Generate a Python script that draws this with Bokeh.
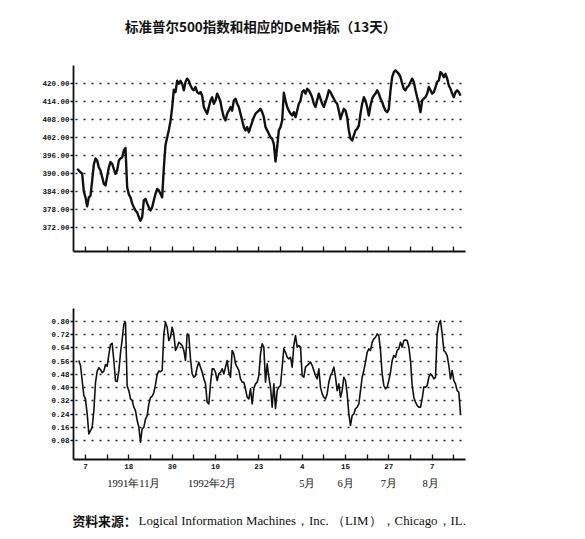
import numpy as np
from bokeh.plotting import figure
from bokeh.models import FixedTicker, NumeralTickFormatter, Range1d
from bokeh.core.properties import value
from bokeh.layouts import column
from bokeh.embed import file_html
from bokeh.resources import INLINE

# S&P 500 daily values, two consecutive stretches
spx_part1 = [
    391.5, 391.0, 390.4, 389.9, 384.0, 382.0, 379.0, 382.0, 382.6, 387.6,
    393.0, 395.0, 394.3, 392.0, 391.0, 388.8, 386.5, 386.0, 389.0, 392.0,
    393.8, 393.2, 391.5, 389.9, 391.0, 394.3, 395.0, 395.4, 397.7, 398.5,
    385.4, 383.0, 382.0, 380.0, 378.7, 377.6, 377.0, 375.4, 374.2, 375.4,
    381.0, 381.5, 380.0, 378.7, 377.6, 378.7, 381.0, 383.2, 384.8, 384.3,
    383.2, 382.0, 392.0, 399.5, 402.0, 404.5, 407.5, 412.0, 418.0, 417.2,
    421.0, 420.0, 421.0, 420.0, 417.8, 420.6, 421.7, 421.0, 419.4, 418.3,
    417.8, 418.9, 417.2, 416.7, 417.2, 416.0, 412.2, 411.0, 410.0, 412.2,
    414.4, 415.5, 413.3, 414.4, 416.7, 415.5, 413.9, 411.0, 408.8, 407.7,
    410.0, 411.0, 412.2, 411.0, 414.4, 415.0, 413.3, 412.2, 410.0, 407.7,
    405.5, 404.4, 405.5, 403.8, 405.5, 407.2, 408.8, 410.0, 410.5, 411.0,
    411.6, 410.5, 408.8,
]
spx_part2 = [
    405.5, 404.4, 403.3, 402.1, 401.6, 399.9, 394.0, 398.8, 404.4, 405.5,
    407.7, 417.0, 414.4, 412.2, 411.0, 410.0, 409.4, 410.5, 408.8, 411.0,
    413.3, 414.4, 417.2, 417.8, 416.7, 418.3, 417.8, 416.7, 415.5, 413.3,
    412.2, 414.4, 416.7, 415.0, 413.3, 412.2, 413.9, 415.5, 417.8, 417.2,
    416.0, 415.0, 413.9, 413.3, 411.0, 408.3, 410.0, 411.6, 411.0, 408.8,
    404.4, 401.6, 401.0, 402.7, 404.4, 404.9, 406.0, 410.0, 413.3, 415.5,
    414.4, 412.2, 409.4, 412.7, 415.0, 416.0, 416.7, 417.8, 416.7, 415.0,
    413.9, 412.2, 411.0, 410.5, 411.6, 417.8, 422.2, 423.9, 424.5, 423.9,
    423.3, 422.2, 420.0, 418.3, 417.8, 418.9, 419.4, 420.6, 421.7, 420.6,
    417.8, 415.5, 413.3, 410.5, 414.4, 415.0, 415.5, 416.7, 418.9, 417.8,
    416.7, 417.2, 418.9, 420.6, 421.1, 423.9, 423.3, 422.2, 423.3, 421.7,
    419.4, 418.3, 416.7, 415.5, 417.2, 417.8, 417.2, 416.0,
]
spx_close = spx_part1 + spx_part2

# DeM indicator (13 days)
dem_part1 = [
    0.564, 0.534, 0.443, 0.352, 0.332, 0.241, 0.120, 0.140, 0.160, 0.260,
    0.430, 0.500, 0.520, 0.510, 0.490, 0.500, 0.540, 0.530, 0.600, 0.660,
    0.668, 0.564, 0.440, 0.437, 0.500, 0.610, 0.690, 0.785, 0.796, 0.410,
    0.382, 0.332, 0.322, 0.282, 0.261, 0.201, 0.161, 0.070, 0.151, 0.160,
    0.210, 0.230, 0.300, 0.340, 0.348, 0.370, 0.420, 0.480, 0.500, 0.497,
    0.504, 0.725, 0.796, 0.766, 0.685, 0.705, 0.766, 0.725, 0.625, 0.645,
    0.675, 0.665, 0.655, 0.625, 0.564, 0.725, 0.715, 0.574, 0.483, 0.463,
    0.473, 0.524, 0.554, 0.524, 0.493, 0.453, 0.423, 0.312, 0.302, 0.423,
    0.514, 0.514, 0.493, 0.443, 0.483, 0.493, 0.514, 0.483, 0.524, 0.564,
    0.493, 0.463, 0.625, 0.604, 0.544, 0.524, 0.504, 0.453, 0.433, 0.433,
    0.393, 0.342, 0.332, 0.393, 0.302, 0.393, 0.423, 0.433, 0.473, 0.604,
]
dem_part2 = [
    0.665, 0.645, 0.433, 0.544, 0.463, 0.403, 0.282, 0.423, 0.272, 0.382,
    0.403, 0.413, 0.524, 0.635, 0.614, 0.584, 0.574, 0.584, 0.524, 0.655,
    0.715, 0.645, 0.655, 0.645, 0.473, 0.463, 0.524, 0.534, 0.544, 0.554,
    0.534, 0.504, 0.473, 0.453, 0.514, 0.403, 0.362, 0.342, 0.332, 0.362,
    0.433, 0.473, 0.493, 0.524, 0.463, 0.382, 0.423, 0.342, 0.382, 0.463,
    0.443, 0.362, 0.241, 0.171, 0.231, 0.241, 0.272, 0.282, 0.302, 0.382,
    0.463, 0.504, 0.554, 0.614, 0.635, 0.625, 0.675, 0.695, 0.705, 0.725,
    0.715, 0.625, 0.483, 0.413, 0.393, 0.403, 0.443, 0.493, 0.564, 0.594,
    0.584, 0.625, 0.635, 0.675, 0.645, 0.685, 0.689, 0.685, 0.645, 0.564,
    0.413, 0.342, 0.312, 0.292, 0.282, 0.282, 0.332, 0.403, 0.403, 0.413,
    0.463, 0.483, 0.473, 0.453, 0.463, 0.725, 0.786, 0.806, 0.725, 0.625,
    0.614, 0.594, 0.534, 0.453, 0.504, 0.443, 0.423, 0.382, 0.372, 0.241,
]
dem_values = dem_part1 + dem_part2

spx_ticks = [372, 378, 384, 390, 396, 402, 408, 414, 420]
dem_ticks = [0.08, 0.16, 0.24, 0.32, 0.40, 0.48, 0.56, 0.64, 0.72, 0.80]
day_tick_labels = ["7", "", "18", "", "30", "", "10", "", "23", "",
                   "4", "", "15", "", "27", "", "7", ""]
month_labels = ["1991年11月", "1992年2月", "5月", "6月", "7月", "8月"]
month_label_days = [34, 81, 138, 161, 187, 212]

title_text = "标准普尔500指数和相应的DeM指标（13天）"
source_prefix = "资料来源："
source_text = "Logical Information Machines，Inc. （LIM），Chicago，IL."

spx_days = np.arange(len(spx_close))
dem_days = np.arange(1, len(dem_values) + 1)
tick_days = [5 + 13 * k for k in range(len(day_tick_labels))]

MONO = "Liberation Mono"
INK = "#111111"
W = 577
DAY_RANGE = (-2.2, 233.0)          # frame span (73px .. 465px)
FULL_DAY_RANGE = (-46.0, 300.1)    # whole canvas width in day units


def text_fig(height, y_top, y_bottom):
    f = figure(width=W, height=height, x_range=Range1d(*FULL_DAY_RANGE),
               y_range=Range1d(y_bottom, y_top), x_axis_type=None, y_axis_type=None,
               output_backend="svg", toolbar_location=None, frame_align=False,
               min_border=0, min_border_left=0, min_border_right=0,
               min_border_top=0, min_border_bottom=0)
    f.outline_line_color = None
    f.xgrid.visible = False
    f.ygrid.visible = False
    f.background_fill_color = "white"
    f.border_fill_color = "white"
    return f


def base_fig(height, yr, top, bottom):
    p = figure(width=W, height=height, x_range=Range1d(*DAY_RANGE), y_range=yr,
               output_backend="svg", toolbar_location=None,
               min_border_left=73, min_border_right=112,
               min_border_top=top, min_border_bottom=bottom)
    p.outline_line_color = None
    p.background_fill_color = "white"
    p.border_fill_color = "white"
    p.xgrid.visible = False
    p.ygrid.grid_line_color = "#222222"
    p.ygrid.grid_line_width = 1.4
    p.ygrid.grid_line_dash = "2 6"
    p.ygrid.grid_line_dash_offset = 6
    for ax in (p.xaxis[0], p.yaxis[0]):
        ax.axis_line_color = INK
        ax.axis_line_width = 1.8
        ax.major_tick_line_color = INK
        ax.major_tick_line_width = 1.3
        ax.minor_tick_line_color = None
        ax.major_label_text_font = MONO
        ax.major_label_text_font_style = "bold"
        ax.major_label_text_font_size = "7.5px"
        ax.major_label_text_color = INK
    p.xaxis.ticker = FixedTicker(ticks=tick_days)
    p.xaxis.major_tick_in = 5
    p.xaxis.major_tick_out = 0
    p.yaxis.major_tick_in = 0
    p.yaxis.major_tick_out = 3
    p.yaxis.major_label_standoff = 1
    p.yaxis.formatter = NumeralTickFormatter(format="0.00")
    return p


# --- header (title) ---
header = text_fig(57, 0, 57)
header.text(x=[110], y=[25], text=[title_text], text_align="center",
            text_baseline="middle", text_font=value("Noto Sans CJK SC"),
            text_font_size=value("13.5px"), text_font_style="bold", text_color=INK)

# --- top: S&P 500 ---
p1 = base_fig(223, Range1d(363.9, 426.1), 8, 29)
p1.yaxis.ticker = FixedTicker(ticks=spx_ticks)
p1.xaxis.major_label_overrides = {d: "" for d in tick_days}
p1.line(spx_days, spx_close, line_color=INK, line_width=2.4, line_join="round")

# --- bottom: DeM ---
p2 = base_fig(194, Range1d(-0.035, 0.879), 28, 15)
p2.yaxis.ticker = FixedTicker(ticks=dem_ticks)
p2.xaxis.major_label_overrides = {d: lab for d, lab in zip(tick_days, day_tick_labels)}
p2.xaxis.major_label_standoff = 4
p2.line(dem_days, dem_values, line_color=INK, line_width=1.6, line_join="round")

# --- footer: month labels and source ---
footer = text_fig(62, 474, 536)
footer.text(x=month_label_days, y=[483] * len(month_labels), text=month_labels,
            text_align="center", text_baseline="middle",
            text_font=value("Liberation Serif"), text_font_size=value("10.5px"),
            text_color=INK)
footer.text(x=[-2.8], y=[520], text=[source_prefix], text_align="left",
            text_baseline="middle", text_font=value("Noto Sans CJK SC"),
            text_font_size=value("12.8px"), text_font_style="bold", text_color=INK)
footer.text(x=[36.8], y=[520], text=[source_text], text_align="left",
            text_baseline="middle", text_font=value("Liberation Serif"),
            text_font_size=value("12.9px"), text_color=INK)

layout = column(header, p1, p2, footer)
open("out.html", "w").write(file_html(layout, INLINE))
